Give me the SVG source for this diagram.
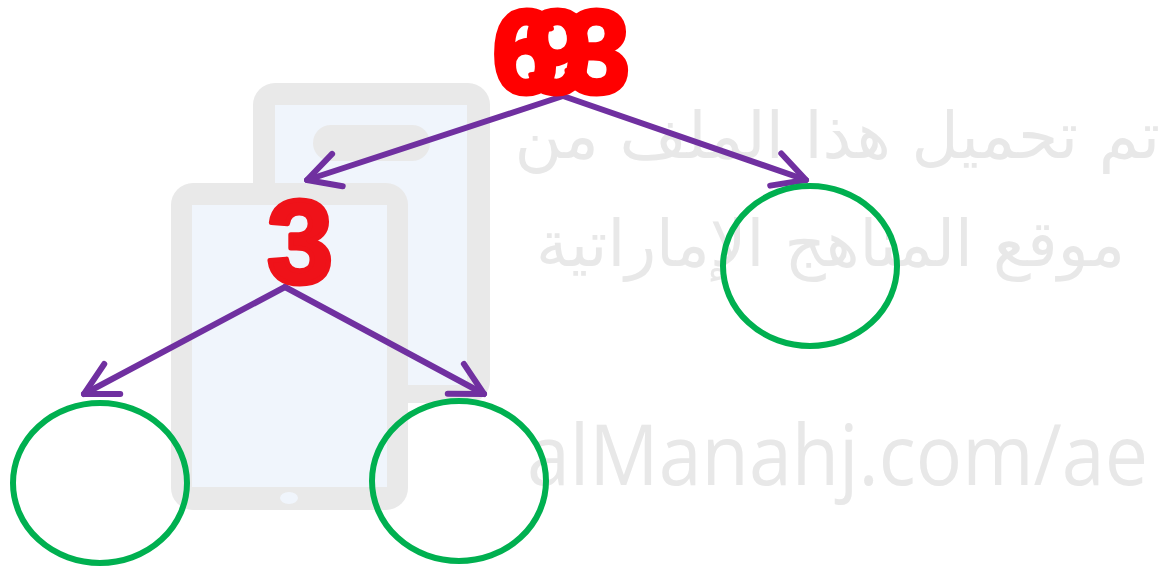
<svg xmlns="http://www.w3.org/2000/svg" width="1168" height="570" viewBox="0 0 1168 570">
<style>
.frame{fill:#e9e9e9}
.screen{fill:#f0f5fc}
.wm{fill:#e8e8e8}
.arrow{stroke:#7030a0;stroke-width:6;fill:none;stroke-linecap:round}
.node{fill:none;stroke:#00b050;stroke-width:6}
.lbl{font-family:"Liberation Sans",Arial,sans-serif;font-weight:bold;font-size:118px;text-anchor:middle;stroke-width:5;stroke-linejoin:round}
</style>
<defs>
<marker id="ah" markerUnits="userSpaceOnUse" markerWidth="60" markerHeight="60" viewBox="-40 -30 50 60" refX="0" refY="0" orient="auto">
<path d="M-32,-17 L0,0 L-32,17" fill="none" stroke="#7030a0" stroke-width="6" stroke-linecap="round" stroke-linejoin="round"/>
</marker>
</defs>
<g id="watermark">
<rect class="frame" x="253" y="83" width="237" height="320" rx="22"/>
<rect class="screen" x="275" y="105" width="192" height="280"/>
<rect class="frame" x="313" y="125" width="117" height="36" rx="18"/>
<rect class="frame" x="171" y="183" width="237" height="327" rx="22"/>
<rect class="screen" x="192" y="205" width="195" height="282"/>
<ellipse class="screen" cx="289" cy="498" rx="9" ry="6"/>
<text class="wm" x="1160" y="158" font-family="DejaVu Sans,Noto Sans,sans-serif" font-size="65" direction="rtl" text-anchor="start">تم تحميل هذا الملف من</text>
<text class="wm" x="1125" y="266" font-family="DejaVu Sans,Noto Sans,sans-serif" font-size="64" direction="rtl" text-anchor="start">موقع المناهج الإماراتية</text>
<text class="wm" x="527" y="485" font-family="Open Sans,sans-serif" font-size="84" textLength="621" lengthAdjust="spacingAndGlyphs">alManahj.com/ae</text>
</g>
<g id="connectors">
<line class="arrow" x1="563" y1="96" x2="307" y2="180" marker-end="url(#ah)"/>
<line class="arrow" x1="563" y1="96" x2="806" y2="180" marker-end="url(#ah)"/>
<line class="arrow" x1="285" y1="287" x2="84" y2="394" marker-end="url(#ah)"/>
<line class="arrow" x1="285" y1="287" x2="484" y2="394" marker-end="url(#ah)"/>
</g>
<g id="node-root">
<text class="lbl" x="525" y="93" fill="#ff0000" stroke="#ff0000">6</text>
<text class="lbl" x="558" y="93" fill="#ff0000" stroke="#ff0000">9</text>
<text class="lbl" x="597" y="93" fill="#ff0000" stroke="#ff0000">3</text>
</g>
<g id="node-left">
<text class="lbl" x="300" y="283" fill="#ef1219" stroke="#ef1219">3</text>
</g>
<g id="node-right"><ellipse class="node" cx="810" cy="266" rx="87" ry="80"/></g>
<g id="node-ll"><ellipse class="node" cx="100" cy="483" rx="87" ry="80"/></g>
<g id="node-lr"><ellipse class="node" cx="459" cy="481" rx="87" ry="80"/></g>
</svg>
